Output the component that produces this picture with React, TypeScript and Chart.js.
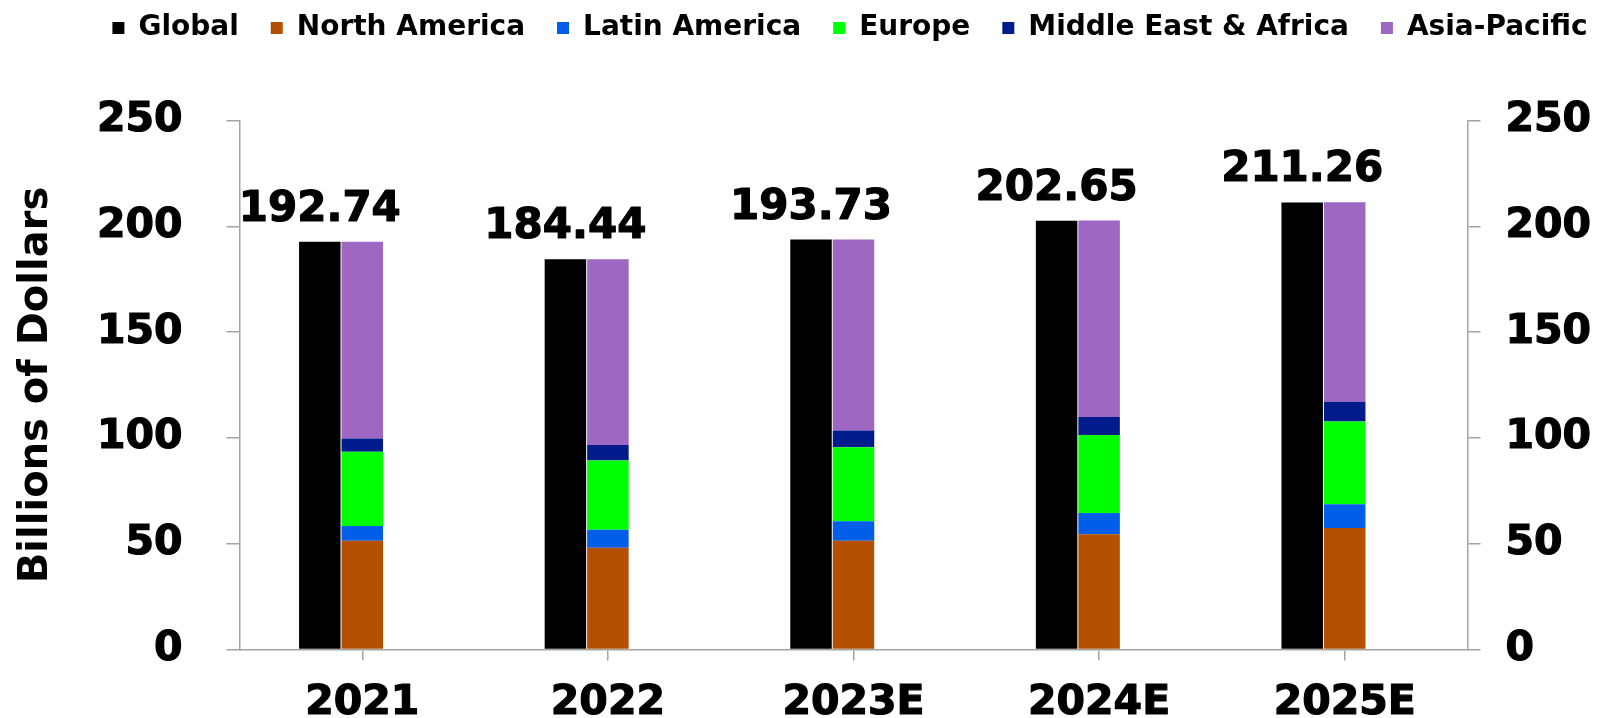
import React, { useEffect, useRef } from 'react';
import { Chart, registerables } from 'chart.js';

Chart.register(...registerables);

// ---- data ----
const categories = ['2021', '2022', '2023E', '2024E', '2025E'];
const globalValues = [192.74, 184.44, 193.73, 202.65, 211.26];
const northAmerica = [51.3, 48.0, 51.3, 54.4, 57.4];
const latinAmerica = [7.0, 8.5, 9.3, 10.1, 11.2];
const europe = [35.1, 32.8, 34.9, 36.9, 39.1];
const middleEastAfrica = [6.3, 7.3, 8.0, 8.4, 9.3];
const asiaPacific = [93.0, 87.8, 90.2, 92.9, 94.3];
const yTickValues = [0, 50, 100, 150, 200, 250];

const seriesNames = ['Global', 'North America', 'Latin America', 'Europe', 'Middle East & Africa', 'Asia-Pacific'];

// ---- style ----
const FONT = '"DejaVu Sans", Verdana, sans-serif';
const AXIS_GRAY = '#a3a3a3';
const COLORS = ['#000000', '#B45000', '#005EE8', '#00FF00', '#001B8C', '#9E67C2'];
const BAR_FRACTION = 0.169; // bar width as share of category width
const GLOBAL_SHIFT = 0.173; // global bar sits just left of the regional stack
const STROKE_W = 1.2;

const layoutTweaks = {
  id: 'layoutTweaks',
  beforeLayout(chart: any) {
    const lg = chart.legend;
    if (lg && !lg.__patched) {
      const fit = lg.fit.bind(lg);
      lg.fit = function () {
        fit();
        this.height = 138.5;
      };
      lg.__patched = true;
    }
  },
  afterLayout(chart: any) {
    const lg = chart.legend;
    if (lg) {
      lg.left += 50;
      lg.right += 50;
    }
  },
};

const totalLabels = {
  id: 'totalLabels',
  afterDatasetsDraw(chart: any) {
    const meta = chart.getDatasetMeta(0);
    const ctx = chart.ctx;
    ctx.save();
    ctx.font = `bold 42px ${FONT}`;
    ctx.fillStyle = '#000';
    ctx.strokeStyle = '#000';
    ctx.lineWidth = STROKE_W;
    ctx.lineJoin = 'round';
    ctx.textAlign = 'center';
    ctx.textBaseline = 'alphabetic';
    meta.data.forEach((el: any, i: number) => {
      const t = globalValues[i].toFixed(2);
      ctx.strokeText(t, el.x, el.y - 21);
      ctx.fillText(t, el.x, el.y - 21);
    });
    ctx.restore();
  },
};

export default function App() {
  const ref = useRef<HTMLCanvasElement | null>(null);

  useEffect(() => {
    if (!ref.current) return;
    const yMin = yTickValues[0];
    const yMax = yTickValues[yTickValues.length - 1];
    const yStep = yTickValues[1] - yTickValues[0];
    const regions = [northAmerica, latinAmerica, europe, middleEastAfrica, asiaPacific];

    const barStyle = {
      grouped: false,
      barPercentage: 1,
      categoryPercentage: BAR_FRACTION,
      borderWidth: 0,
    };

    const datasets: any[] = [
      {
        label: seriesNames[0],
        data: globalValues.map((v, i) => ({ x: i, y: v })),
        backgroundColor: COLORS[0],
        xAxisID: 'x2',
        yAxisID: 'y',
        stack: 'global',
        ...barStyle,
      },
      ...regions.map((vals, k) => ({
        label: seriesNames[k + 1],
        data: vals,
        backgroundColor: COLORS[k + 1],
        xAxisID: 'x',
        yAxisID: 'y',
        stack: 'regions',
        ...barStyle,
      })),
    ];

    const yTickFont = { family: FONT, size: 41, weight: 'bold' as const };

    const chart = new Chart(ref.current, {
      type: 'bar',
      data: { labels: categories, datasets },
      plugins: [layoutTweaks, totalLabels],
      options: {
        responsive: false,
        animation: false,
        layout: { padding: { top: -18, left: 0, right: 0, bottom: 0 } },
        plugins: {
          legend: {
            display: true,
            position: 'top',
            align: 'center',
            labels: {
              color: '#000',
              font: { family: FONT, size: 28, weight: 'bold' },
              boxWidth: 12,
              boxHeight: 12,
              padding: 32,
            },
          },
          tooltip: { enabled: false },
        },
        scales: {
          x: {
            type: 'category',
            stacked: true,
            offset: true,
            grid: {
              display: true,
              drawOnChartArea: false,
              drawTicks: true,
              tickLength: 11,
              color: AXIS_GRAY,
              lineWidth: 1.5,
              offset: false,
            },
            border: { display: true, color: AXIS_GRAY, width: 1.5 },
            ticks: {
              color: '#000',
              font: { family: FONT, size: 41, weight: 'bold' },
              textStrokeColor: '#000',
              textStrokeWidth: STROKE_W,
              padding: 18,
              maxRotation: 0,
              autoSkip: false,
            },
            afterFit: (s: any) => {
              s.height = 67.3;
            },
          },
          x2: {
            type: 'linear',
            display: false,
            min: -0.5 + GLOBAL_SHIFT,
            max: categories.length - 0.5 + GLOBAL_SHIFT,
            offset: false,
            ticks: { stepSize: 1 },
          },
          y: {
            type: 'linear',
            position: 'left',
            stacked: true,
            min: yMin,
            max: yMax,
            ticks: {
              stepSize: yStep,
              color: '#000',
              font: yTickFont,
              textStrokeColor: '#000',
              textStrokeWidth: STROKE_W,
              padding: 44,
            },
            grid: {
              display: true,
              drawOnChartArea: false,
              drawTicks: true,
              tickLength: 13,
              color: AXIS_GRAY,
              lineWidth: 1.5,
            },
            border: { display: true, color: AXIS_GRAY, width: 1.5 },
            title: {
              display: true,
              text: 'Billions of Dollars',
              color: '#000',
              font: { family: FONT, size: 40, weight: 'bold', lineHeight: 1.2 },
              padding: { top: 13, bottom: 0 },
            },
            afterFit: (s: any) => {
              s.width = 239.5;
            },
          },
          y2: {
            type: 'linear',
            position: 'right',
            min: yMin,
            max: yMax,
            ticks: {
              stepSize: yStep,
              color: '#000',
              font: yTickFont,
              textStrokeColor: '#000',
              textStrokeWidth: STROKE_W,
              padding: 25,
            },
            grid: {
              display: true,
              drawOnChartArea: false,
              drawTicks: true,
              tickLength: 13,
              color: AXIS_GRAY,
              lineWidth: 1.5,
            },
            border: { display: true, color: AXIS_GRAY, width: 1.5 },
            afterFit: (s: any) => {
              s.width = 132.5;
            },
          },
        },
      } as any,
    });

    return () => chart.destroy();
  }, []);

  return (
    <div style={{ position: 'fixed', left: 0, top: 0, width: 1600, height: 718, background: '#fff' }}>
      <canvas ref={ref} width={1600} height={718} style={{ display: 'block' }} />
    </div>
  );
}
